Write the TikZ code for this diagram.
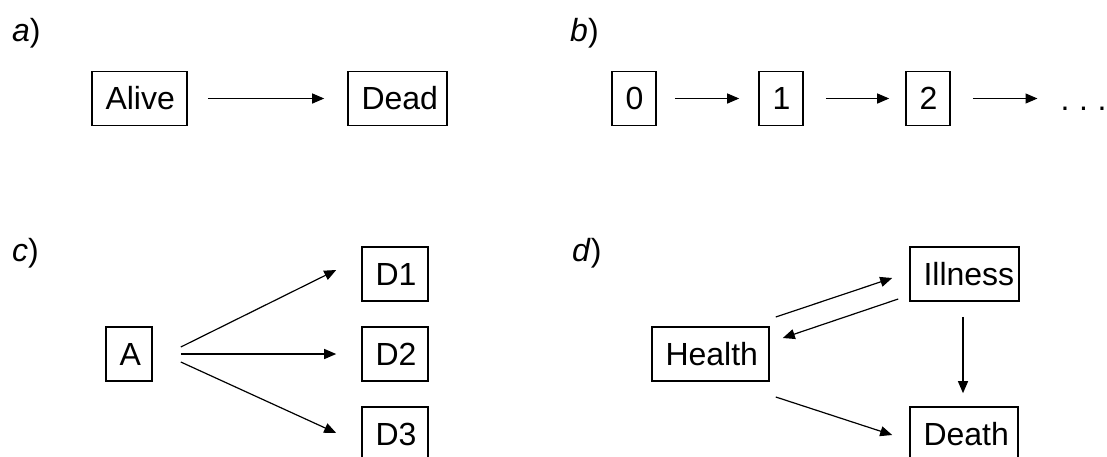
\documentclass[tikz,border=0pt]{standalone}
\usepackage{fontspec}
\setmainfont{Liberation Sans}
\usetikzlibrary{arrows.meta}
\begin{document}
\begin{tikzpicture}[x=1pt,y=-1pt,
  box/.style={draw, line width=1.6pt, minimum height=54pt, inner xsep=13.5pt, inner ysep=0pt, align=left, font=\fontsize{32}{38}\selectfont},
  lbl/.style={inner sep=0pt, anchor=base west, font=\fontsize{32}{38}\selectfont},
  arr/.style={line width=1.2pt, -{Triangle[length=12pt,width=10pt]}}]
\useasboundingbox (0,0) rectangle (1107,456);
\clip (0,0) rectangle (1107,456);
% a)
\node[lbl] (la) at (12,41) {\textit{a})};
\node[box, text width=68pt] (alive) at (139.5,98.5) {Alive};
\node[box, text width=72pt] (dead) at (397.5,98.5) {Dead};
\draw[arr] ([xshift=20]alive.east) -- ([xshift=-23]dead.west);
% b)
\node[lbl] (lb) at (570,41) {\textit{b})};
\node[box, text width=17pt] (s0) at (634,98.5) {0};
\node[box, text width=17pt] (s1) at (781,98.5) {1};
\node[box, text width=17pt] (s2) at (928,98.5) {2};
\node[lbl] (dots) at (1060.5,110) {.\kern9.6pt.\kern9.6pt.};
\draw[arr] ([xshift=18]s0.east) -- ([xshift=-19]s1.west);
\draw[arr] ([xshift=22]s1.east) -- ([xshift=-16]s2.west);
\draw[arr] ([xshift=22]s2.east) -- ([xshift=-23]dots.west |- s2.east);
% c)
\node[lbl] (lc) at (12,261) {\textit{c})};
\node[box, text width=19pt] (A) at (129,354) {A};
\node[box, text width=39pt] (D1) at (395,274) {D1};
\node[box, text width=39pt] (D2) at (395,354) {D2};
\node[box, text width=39pt] (D3) at (395,434) {D3};
\draw[arr] ([shift={(28,-7)}]A.east) -- ([shift={(-25,-4)}]D1.west);
\draw[arr] ([shift={(28,0)}]A.east) -- ([shift={(-25,0)}]D2.west);
\draw[arr] ([shift={(28,8)}]A.east) -- ([shift={(-25,-1)}]D3.west);
% d)
\node[lbl] (ld) at (572,261) {\textit{d})};
\node[box, text width=90pt] (health) at (710.5,354) {Health};
\node[box, text width=82pt] (illness) at (964.5,274) {Illness};
\node[box, text width=81pt] (death) at (964,434) {Death};
\draw[arr] ([shift={(6,-37)}]health.east) -- ([shift={(-17,4)}]illness.west);
\draw[arr] ([shift={(-11,25)}]illness.west) -- ([shift={(13,-16)}]health.east);
\draw[arr] ([shift={(-1.5,15)}]illness.south) -- ([shift={(-1,-13)}]death.north);
\draw[arr] ([shift={(6,43)}]health.east) -- ([shift={(-17,1)}]death.west);
\end{tikzpicture}
\end{document}
